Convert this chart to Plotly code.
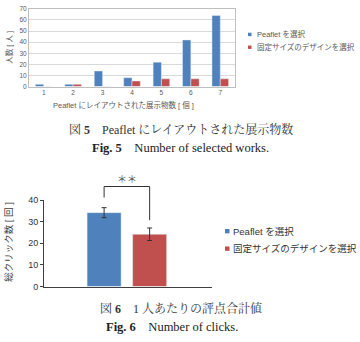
import plotly.graph_objects as go

W, H = 360, 342

# ---- Fig. 5 data ----
counts = ["1", "2", "3", "4", "5", "6", "7"]
peaflet_people = [2, 2, 14, 8, 22, 42, 64]
fixed_people = [0, 2, 0, 5, 7, 7, 7]
y1_ticks = [0, 10, 20, 30, 40, 50, 60, 70]

# ---- Fig. 6 data ----
click_peaflet = [34.2]
click_peaflet_err = [2.3]
click_fixed = [24.2]
click_fixed_err = [2.9]
y2_ticks = [0, 10, 20, 30, 40]

series_names = ["Peaflet を選択", "固定サイズのデザインを選択"]
BLUE, RED = "#4F81BD", "#C0504D"
SANS = "Liberation Sans, Noto Sans CJK JP, sans-serif"
SERIF = "Liberation Serif, Noto Serif CJK JP, Noto Sans CJK JP, serif"

def px(x):
    return x / W

def py(y):
    return 1 - y / H

BARGAP = 0.435
X1D = [px(29), px(235)]
Y1D = [py(84), py(4)]
X2D = [px(44), px(212)]
Y2D = [py(290), py(201)]
X2R = [-0.514, 0.528]
Y2R = [0, 40]

fig = go.Figure()
fig.add_trace(go.Bar(x=counts, y=peaflet_people, name=series_names[0], marker_color=BLUE,
                     xaxis="x", yaxis="y", showlegend=False))
fig.add_trace(go.Bar(x=counts, y=fixed_people, name=series_names[1], marker_color=RED,
                     xaxis="x", yaxis="y", showlegend=False))

err_style = dict(type="data", color="#333333", thickness=1, width=2.5)
fig.add_trace(go.Bar(x=[0], y=click_peaflet, name=series_names[0], marker_color=BLUE,
                     width=0.211, error_y=dict(array=click_peaflet_err, **err_style),
                     xaxis="x2", yaxis="y2", showlegend=False))
fig.add_trace(go.Bar(x=[0], y=click_fixed, name=series_names[1], marker_color=RED,
                     width=0.211, error_y=dict(array=click_fixed_err, **err_style),
                     xaxis="x2", yaxis="y2", showlegend=False))

def x2p(v):
    return X2D[0] + (v - X2R[0]) / (X2R[1] - X2R[0]) * (X2D[1] - X2D[0])

def y2p(v):
    return Y2D[0] + (v - Y2R[0]) / (Y2R[1] - Y2R[0]) * (Y2D[1] - Y2D[0])

slot = (1 - BARGAP) / 2
bx_l, bx_r = -slot / 2, slot / 2
sig_top = 46.3
sig_left = click_peaflet[0] + click_peaflet_err[0] + 4.7
sig_right = click_fixed[0] + click_fixed_err[0] + 3.6

shapes = [
    dict(type="path", xref="paper", yref="paper",
         path=(f"M {x2p(bx_l)},{y2p(sig_left)} L {x2p(bx_l)},{y2p(sig_top)} "
               f"L {x2p(bx_r)},{y2p(sig_top)} L {x2p(bx_r)},{y2p(sig_right)}"),
         line=dict(color="#333333", width=1)),
]
# legend swatches
for c, yy in [(BLUE, 30.3), (RED, 43.5)]:
    shapes.append(dict(type="rect", xref="paper", yref="paper",
                       x0=px(248), x1=px(251.5), y0=py(yy - 1.75), y1=py(yy + 1.75),
                       fillcolor=c, line=dict(width=0)))
for c, yy in [(BLUE, 233), (RED, 251)]:
    shapes.append(dict(type="rect", xref="paper", yref="paper",
                       x0=px(225), x1=px(229.5), y0=py(yy - 2.25), y1=py(yy + 2.25),
                       fillcolor=c, line=dict(width=0)))

def ann(text, x, y, size, color="#595959", family=SANS, angle=0, xanchor="center"):
    return dict(text=text, x=px(x), y=py(y), xref="paper", yref="paper", showarrow=False,
                xanchor=xanchor, yanchor="middle", textangle=angle,
                font=dict(size=size, color=color, family=family))

annotations = [
    ann("人数 [ 人 ]", 9, 44, 7.5, angle=-90),
    ann("Peaflet にレイアウトされた展示物数 [ 個 ]", 123, 103, 7.5),
    ann(series_names[0], 255, 30.3, 7.5, xanchor="left"),
    ann(series_names[1], 255, 43.5, 7.5, xanchor="left"),
    ann("図 <b>5</b>\u2003Peaflet にレイアウトされた展示物数", 181, 128, 12, "#333333", SERIF),
    ann("<b>Fig. 5</b>\u2003Number of selected works.", 180, 147, 12.5, "#222222", SERIF),
    dict(text="＊＊", x=x2p(0), y=y2p(sig_top), xref="paper", yref="paper", showarrow=False,
         xanchor="center", yanchor="bottom", font=dict(size=10, color="#555555", family=SANS)),
    ann("総クリック数 [ 回 ]", 9, 244, 9.5, "#404040", angle=-90),
    ann(series_names[0], 231, 233, 9.5, "#333333", xanchor="left"),
    ann(series_names[1], 231, 251, 9.5, "#333333", xanchor="left"),
    ann("図 <b>6</b>\u20031 人あたりの評点合計値", 181, 313, 12, "#333333", SERIF),
    ann("<b>Fig. 6</b>\u2003Number of clicks.", 172, 332, 12.5, "#222222", SERIF),
]

fig.update_layout(
    width=W, height=H, margin=dict(l=0, r=0, t=0, b=0),
    paper_bgcolor="white", plot_bgcolor="white",
    barmode="group", bargap=BARGAP, bargroupgap=0,
    showlegend=False,
    font=dict(family=SANS),
    xaxis=dict(domain=X1D, anchor="y", type="category", range=[-0.5, 6.5],
               showline=True, mirror=True, linecolor="#BFBFBF", linewidth=1,
               ticks="", showgrid=False, tickfont=dict(size=6.5, color="#595959")),
    yaxis=dict(domain=Y1D, anchor="x", range=[0, 70], tickvals=y1_ticks,
               showline=True, mirror=True, linecolor="#BFBFBF", linewidth=1,
               showgrid=True, gridcolor="#D9D9D9", zeroline=False, ticks="",
               tickfont=dict(size=6.5, color="#595959")),
    xaxis2=dict(domain=X2D, anchor="y2", range=X2R, showticklabels=False, ticks="",
                showline=True, linecolor="#404040", linewidth=1, showgrid=False, zeroline=False),
    yaxis2=dict(domain=Y2D, anchor="x2", range=Y2R, tickvals=y2_ticks, ticks="outside",
                ticklen=3, tickcolor="#404040", showline=True, linecolor="#404040", linewidth=1,
                showgrid=False, zeroline=False, tickfont=dict(size=9, color="#333333")),
    shapes=shapes,
    annotations=annotations,
)

fig.write_html("out.html")
